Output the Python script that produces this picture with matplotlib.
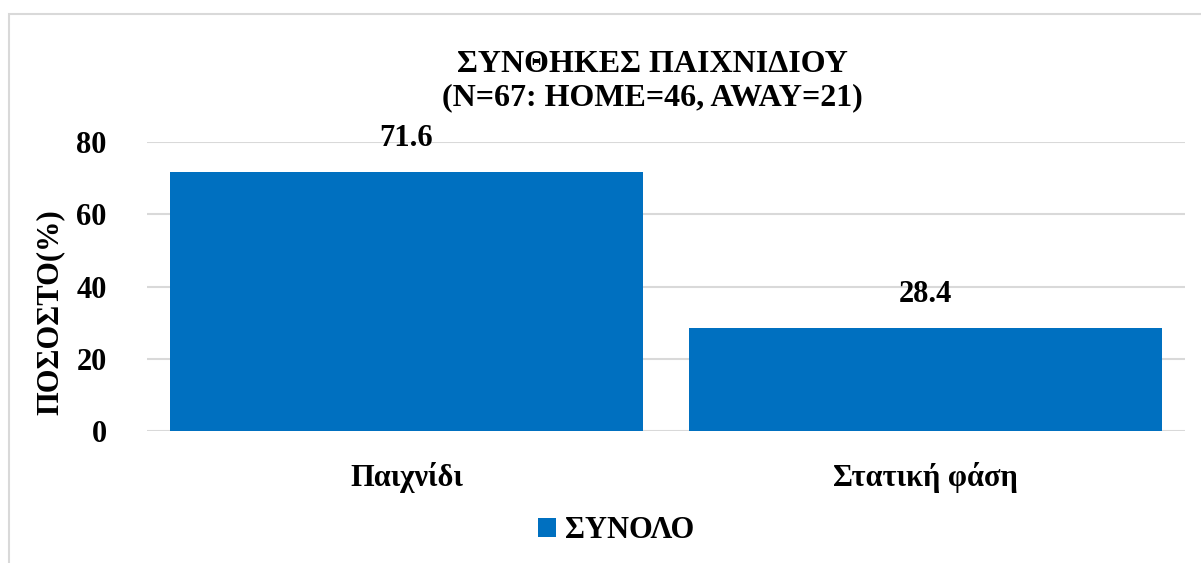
import matplotlib
matplotlib.use("Agg")
import matplotlib.pyplot as plt
from matplotlib.patches import Rectangle

categories = ["Παιχνίδι", "Στατική φάση"]
values = [71.6, 28.4]
series_name = "ΣΥΝΟΛΟ"
yticks = [0, 20, 40, 60, 80]
title = "ΣΥΝΘΗΚΕΣ ΠΑΙΧΝΙΔΙΟΥ\n(N=67: HOME=46, AWAY=21)"
ylabel = "ΠΟΣΟΣΤΟ(%)"

plt.rcParams['font.family'] = ['Liberation Serif', 'DejaVu Serif']
plt.rcParams['font.weight'] = 'bold'

W, H = 1201, 563
fig = plt.figure(figsize=(W / 100, H / 100), dpi=100)
fig.patch.set_facecolor('white')

# outer chart border
fig.add_artist(Rectangle((9 / W, -0.05), 1.2, 1 - 14 / H + 0.05, transform=fig.transFigure,
                         fill=False, edgecolor='#D9D9D9', linewidth=1.5))

ax = fig.add_axes([147 / W, 1 - 431 / H, (1185 - 147) / W, (431 - 142) / H])
x = list(range(len(categories)))
bars = ax.bar(x, values, width=0.91, color='#0070C0', label=series_name, zorder=3)
ax.set_xlim(-0.5, len(categories) - 0.5)
ax.set_ylim(0, 80)
ax.set_yticks(yticks)
ax.set_yticklabels([str(t) for t in yticks], fontsize=22, fontweight='bold')
ax.set_xticks(x)
ax.set_xticklabels(categories, fontsize=22, fontweight='bold')
ax.tick_params(axis='both', length=0)
ax.tick_params(axis='y', pad=29)
ax.tick_params(axis='x', pad=22)
ax.yaxis.grid(True, color='#D9D9D9', linewidth=1.5, zorder=0)
ax.set_axisbelow(True)
for s in ax.spines.values():
    s.set_visible(False)

for xi, v in zip(x, values):
    ax.annotate(f"{v:.1f}", (xi, v), xytext=(0, 14), textcoords='offset points',
                ha='center', va='bottom', fontsize=22, fontweight='bold')

fig.text(652 / W, 1 - 81 / H, title, ha='center', va='center', fontsize=23,
         fontweight='bold', linespacing=1.2)
fig.text(50 / W, 1 - 312 / H, ylabel, ha='center', va='center', rotation=90,
         fontsize=22, fontweight='bold')

leg = fig.legend(handles=[bars], labels=[series_name], loc='center',
                 bbox_to_anchor=(616 / W, 1 - 531 / H), frameon=False,
                 prop={'size': 22, 'weight': 'bold'}, handlelength=0.6,
                 handleheight=0.6, handletextpad=0.3)

fig.savefig('out.png', dpi=100)
